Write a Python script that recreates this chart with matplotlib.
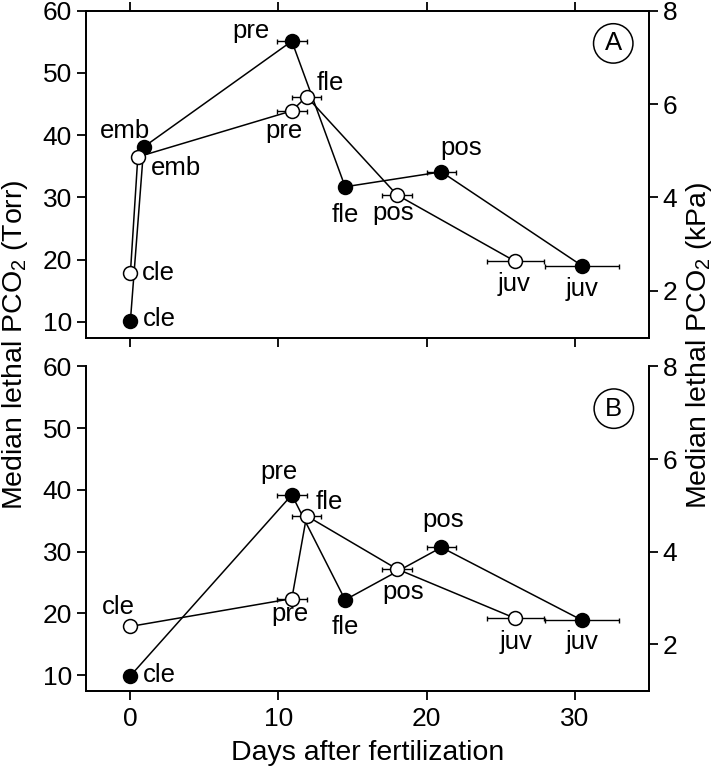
import numpy as np
import matplotlib
matplotlib.use("Agg")
import matplotlib.pyplot as plt

plt.rcParams['font.family'] = ['Liberation Sans', 'DejaVu Sans']
plt.rcParams['mathtext.fontset'] = 'custom'
plt.rcParams['mathtext.rm'] = 'Liberation Sans'
plt.rcParams['mathtext.it'] = 'Liberation Sans:italic'

TORR_TO_KPA = 0.13332

# ---- Panel A ----
a_filled_stage = ["cle", "emb", "pre", "fle", "pos", "juv"]
a_filled_days = [0.0, 0.9, 10.9, 14.5, 21.0, 30.5]
a_filled_torr = [10.2, 38.1, 55.1, 31.7, 34.1, 19.0]
a_filled_err = [0, 0, 1.0, 0, 1.0, 2.5]

a_open_stage = ["cle", "emb", "pre", "fle", "pos", "juv"]
a_open_days = [0.0, 0.5, 10.9, 11.9, 18.0, 26.0]
a_open_torr = [17.9, 36.5, 43.9, 46.2, 30.4, 19.7]
a_open_err = [0, 0, 1.0, 1.0, 1.0, 1.95]

# ---- Panel B ----
b_filled_stage = ["cle", "pre", "fle", "pos", "juv"]
b_filled_days = [0.0, 10.9, 14.5, 21.0, 30.5]
b_filled_torr = [9.9, 39.2, 22.2, 30.7, 18.9]
b_filled_err = [0, 1.0, 0, 1.0, 2.5]

b_open_stage = ["cle", "pre", "fle", "pos", "juv"]
b_open_days = [0.0, 10.9, 11.9, 18.0, 26.0]
b_open_torr = [17.9, 22.4, 35.8, 27.2, 19.2]
b_open_err = [0, 1.0, 1.0, 1.0, 1.95]

x_ticks = [0, 10, 20, 30]
torr_ticks = [10, 20, 30, 40, 50, 60]
kpa_ticks = [2, 4, 6, 8]

# label offsets in pixels (dx, dy, ha)
a_filled_off = [(12, 1.5, 'left'), (-18.6, 15.9, 'center'), (-40.6, 10.2, 'center'),
                (0, -28.3, 'center'), (20, 24.2, 'center'), (0, -23, 'center')]
a_open_off = [(11, -0.5, 'left'), (38.6, -11.5, 'center'), (-7.6, -20.1, 'center'),
              (24, 13.2, 'center'), (-4, -18.5, 'center'), (-1, -22.7, 'center')]
b_filled_off = [(12, 0.9, 'left'), (-12.8, 22.8, 'center'), (0, -26.8, 'center'),
                (2, 26.9, 'center'), (0, -22, 'center')]
b_open_off = [(-12, 19.5, 'center'), (-2, -15.5, 'center'), (23, 13.8, 'center'),
              (6.6, -23.2, 'center'), (1, -23.5, 'center')]

FS_TICK = 19
FS_ANN = 18.5
FS_LAB = 20.5
LW = 1.1
SPW = 1.3

fig = plt.figure(figsize=(7.16, 7.68), dpi=100)
ax1 = fig.add_axes([0.1201, 0.5599, 0.7859, 0.4262])
ax2 = fig.add_axes([0.1201, 0.0999, 0.7859, 0.4230])


def draw_series(ax, days, torr, err, stages, offs, filled, z):
    days = np.asarray(days)
    torr = np.asarray(torr)
    err = np.asarray(err)
    m = err > 0
    ax.errorbar(days[m], torr[m], xerr=err[m], fmt='none', ecolor='black',
                elinewidth=1.0, capsize=1.8, capthick=1.0, zorder=z)
    ax.plot(days, torr, '-', color='black', lw=LW, zorder=z)
    ax.plot(days, torr, 'o', ms=10, mec='black', mew=1.1,
            mfc='black' if filled else 'white', zorder=z + 0.5, ls='none')
    for xd, yt, s, (dx, dy, ha) in zip(days, torr, stages, offs):
        ax.annotate(s, (xd, yt), xytext=(dx, dy), textcoords='offset pixels',
                    ha=ha, va='center', fontsize=FS_ANN, zorder=6)


def style(ax, top_spine, top_ticks, bottom_labels, label, lx, ly):
    ax.set_xlim(-3, 35)
    ax.set_ylim(7.4, 60)
    ax.set_xticks(x_ticks)
    ax.set_yticks(torr_ticks)
    for s in ax.spines.values():
        s.set_linewidth(SPW)
    ax.spines['top'].set_visible(top_spine)
    ax.tick_params(axis='x', direction='out', length=6.5, width=SPW, pad=5,
                   labelsize=FS_TICK, top=top_ticks, bottom=True,
                   labelbottom=bottom_labels)
    ax.tick_params(axis='y', direction='out', length=6.5, width=SPW, pad=3.5,
                   labelsize=FS_TICK)
    axr = ax.twinx()
    axr.set_ylim(7.4 * TORR_TO_KPA, 60 * TORR_TO_KPA)
    axr.set_yticks(kpa_ticks)
    for s in axr.spines.values():
        s.set_linewidth(SPW)
    axr.spines['top'].set_visible(top_spine)
    axr.tick_params(axis='y', direction='out', length=6.5, width=SPW, pad=3.5,
                    labelsize=FS_TICK)
    ax.set_zorder(axr.get_zorder() + 1)
    ax.patch.set_visible(False)
    ax.text(lx, ly, label, transform=ax.transAxes, ha='center', va='center',
            fontsize=FS_ANN,
            bbox=dict(boxstyle='circle,pad=0.3', fc='white', ec='black', lw=1.1),
            zorder=7)
    return axr


draw_series(ax1, a_filled_days, a_filled_torr, a_filled_err, a_filled_stage, a_filled_off, True, 3)
draw_series(ax1, a_open_days, a_open_torr, a_open_err, a_open_stage, a_open_off, False, 4)
draw_series(ax2, b_filled_days, b_filled_torr, b_filled_err, b_filled_stage, b_filled_off, True, 3)
draw_series(ax2, b_open_days, b_open_torr, b_open_err, b_open_stage, b_open_off, False, 4)

style(ax1, True, True, False, 'A', 0.937, 0.900)
style(ax2, False, False, True, 'B', 0.938, 0.870)

ax2.set_xlabel('Days after fertilization', fontsize=FS_LAB, labelpad=6)

fig.text(15 / 716, 1 - 345 / 768, r'Median lethal PCO$_\mathregular{2}$ (Torr)',
         rotation=90, ha='center', va='center', fontsize=FS_LAB)
fig.text(699 / 716, 1 - 345 / 768, r'Median lethal PCO$_\mathregular{2}$ (kPa)',
         rotation=90, ha='center', va='center', fontsize=FS_LAB)

fig.savefig('out.png', dpi=100)
